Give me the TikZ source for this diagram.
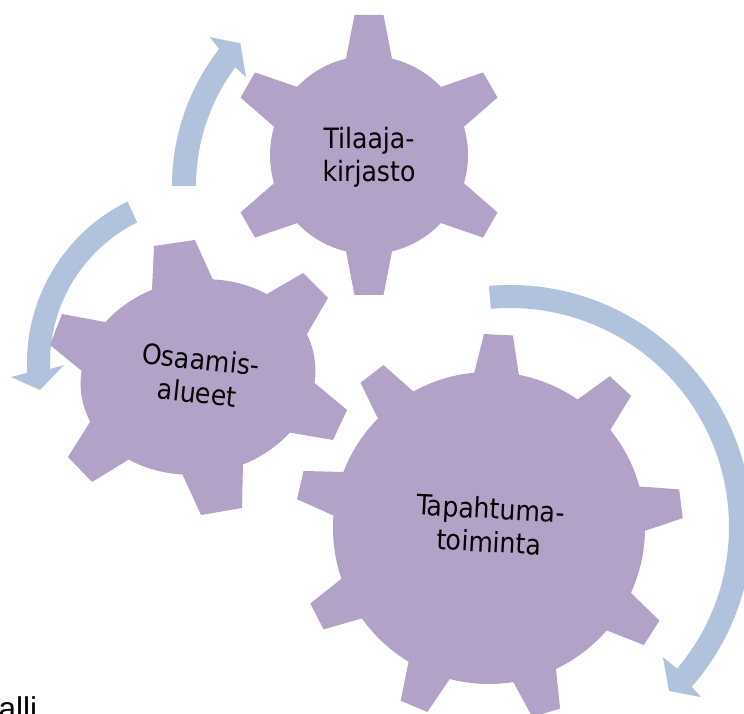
\documentclass[tikz,border=0pt]{standalone}
\usepackage{fontspec}
\setmainfont{DejaVu Sans Condensed}
\newfontfamily\allifont{Liberation Sans}
\usetikzlibrary{calc}
\definecolor{gearc}{HTML}{B3A2C7}
\definecolor{arrc}{HTML}{B1C2DC}
\tikzset{
  gearfill/.style={fill=gearc, draw=none},
  arrowfill/.style={fill=arrc, draw=none},
  geartext/.style={align=center, inner sep=0pt, text=black,
    font=\fontsize{28}{33.5}\selectfont},
}
\begin{document}
\begin{tikzpicture}[x=1pt,y=1pt]
\useasboundingbox (0,0) rectangle (744,714);

% ---------- circular arrows ----------
\coordinate (A1) at (395,528);
\fill[arrowfill] ($(A1)+(180:223pt)$) arc[start angle=180,end angle=142.1,radius=223pt]
  -- ($(A1)+(141.2:237.5pt)$) -- ($(A1)+(137.3:210.5pt)$) -- ($(A1)+(143.8:184.6pt)$)
  -- ($(A1)+(143.4:199pt)$) arc[start angle=143.4,end angle=180,radius=199pt] -- cycle;

\coordinate (A2) at (207,351);
\fill[arrowfill] ($(A2)+(116.2:180pt)$) arc[start angle=116.2,end angle=183.1,radius=180pt]
  -- ($(A2)+(184.1:196.5pt)$) -- ($(A2)+(189.2:169.2pt)$) -- ($(A2)+(180.8:143pt)$)
  -- ($(A2)+(182.2:157pt)$) arc[start angle=182.2,end angle=116.4,radius=157pt] -- cycle;

\coordinate (A3) at (510,187);
\fill[arrowfill] ($(A3)+(95:242pt)$) arc[start angle=95,end angle=-41.3,radius=242pt]
  -- ($(A3)+(-41.7:255.7pt)$) -- ($(A3)+(-45.9:228.4pt)$) -- ($(A3)+(-40.4:200.8pt)$)
  -- ($(A3)+(-40.3:219pt)$) arc[start angle=-40.3,end angle=95,radius=219pt] -- cycle;

% ---------- gear 1 (Tilaaja-kirjasto) ----------
\coordinate (G1) at (369,559);
\fill[gearfill] (G1) circle[radius=99pt];
\foreach \a in {90,30,-30,-90,-150,150}
  \fill[gearfill, shift={(G1)}, rotate=\a] (79,-26.4) -- (140,-14.5) -- (140,14.5) -- (79,26.4) -- cycle;

% ---------- gear 3 (Tapahtuma-toiminta) ----------
\coordinate (G3) at (489,186);
\fill[gearfill] (G3) circle[radius=156pt];
\foreach \k in {0,...,8}
  \fill[gearfill, shift={(G3)}, rotate={87.2-40*\k}] (136,-26) -- (193.5,-14.5) -- (193.5,14.5) -- (136,26) -- cycle;

% ---------- gear 2 (Osaamis-alueet) ----------
\coordinate (G2) at (198,337);
\fill[gearfill, rotate around={10:(G2)}] (G2) ellipse[x radius=118pt, y radius=97pt];
\foreach \ba/\ta/\tb/\bb in {
  {152,424}/{154,468}/{195,474}/{213,434},
  {267,420}/{303,441}/{328,416}/{307,380},
  {317,329}/{347,304}/{333,274}/{292,281},
  {243,251}/{242,206}/{201,199}/{185,234},
  {128,254}/{92,232}/{68,257}/{90,292},
  {83,342}/{50,369}/{62,400}/{105,392}}
  \fill[gearfill] ($(\ta)!1.7!(\ba)$) -- (\ta) -- (\tb) -- ($(\tb)!1.7!(\bb)$) -- cycle;

% ---------- texts ----------
\node[geartext] (t1) at (369,556.5) {Tilaaja-\\kirjasto};
\node[geartext, rotate=-6] (t2) at (199,338) {Osaamis-\\alueet};
\node[geartext, rotate=-3] (t3) at (490,189) {Tapahtuma-\\toiminta};
\node[anchor=base west, inner sep=0pt, font=\allifont\fontsize{31.5}{36}\selectfont] (t4) at (-1.5,-6) {alli};
\end{tikzpicture}
\end{document}
